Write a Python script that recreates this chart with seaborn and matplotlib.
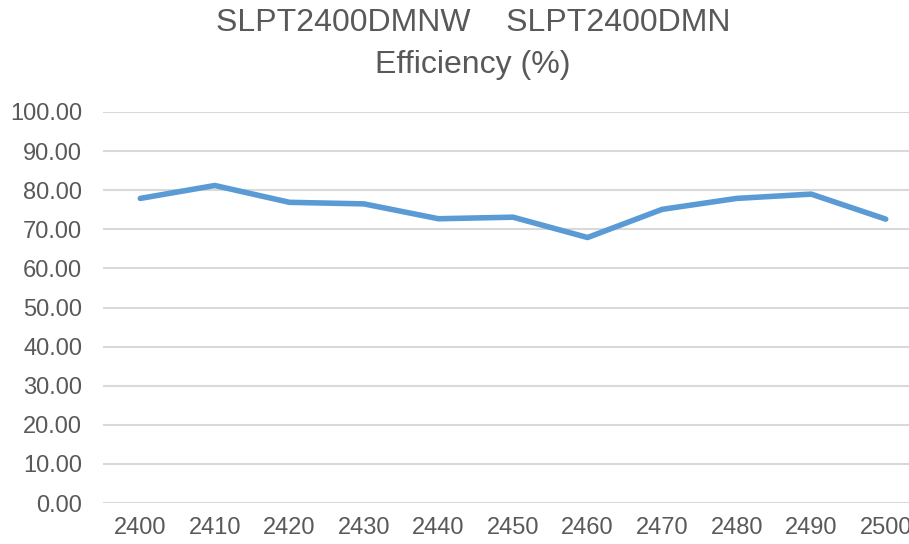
import pandas as pd
import matplotlib
matplotlib.use("Agg")
import matplotlib.pyplot as plt
import seaborn as sns

# --- Data ---
freq = [2400, 2410, 2420, 2430, 2440, 2450, 2460, 2470, 2480, 2490, 2500]
efficiency = [77.9, 81.2, 76.9, 76.5, 72.7, 73.1, 67.9, 75.1, 77.9, 79.0, 72.6]
y_ticks = [0, 10, 20, 30, 40, 50, 60, 70, 80, 90, 100]
title = "SLPT2400DMNW    SLPT2400DMN\nEfficiency (%)"

TEXT = "#595959"
GRID = "#D9D9D9"
LINE = "#5B9BD5"

sns.set_theme(style="white")
plt.rcParams["font.family"] = ["Liberation Sans", "DejaVu Sans"]

df = pd.DataFrame({"freq": freq, "eff": efficiency})

W, H = 909, 544
fig = plt.figure(figsize=(W / 100, H / 100), dpi=100)
# the chart area runs past the right edge, as in the reference
ax = fig.add_axes([103 / W, 1 - 503 / H, 820 / W, (503 - 112) / H])

sns.lineplot(data=df, x="freq", y="eff", ax=ax, color=LINE, linewidth=4,
             solid_capstyle="round", solid_joinstyle="round", zorder=3)

ax.set_xlim(2395, 2505)
ax.set_ylim(0, 100)
ax.set_xticks(freq)
ax.set_xticklabels([str(f) for f in freq])
ax.set_yticks(y_ticks)
ax.set_yticklabels([f"{v:.2f}" for v in y_ticks])
ax.yaxis.grid(True, color=GRID, linewidth=1.5)
ax.xaxis.grid(False)
ax.set_axisbelow(True)
for s in ax.spines.values():
    s.set_visible(False)
ax.tick_params(axis="both", length=0, labelsize=17, colors=TEXT)
ax.tick_params(axis="y", pad=15)
ax.tick_params(axis="x", pad=10)
ax.set_xlabel("")
ax.set_ylabel("")

fig.text(473 / W, 1 - 44 / H, title, ha="center", va="center", fontsize=23,
         color=TEXT, linespacing=1.5)

fig.savefig("out.png", dpi=100)
